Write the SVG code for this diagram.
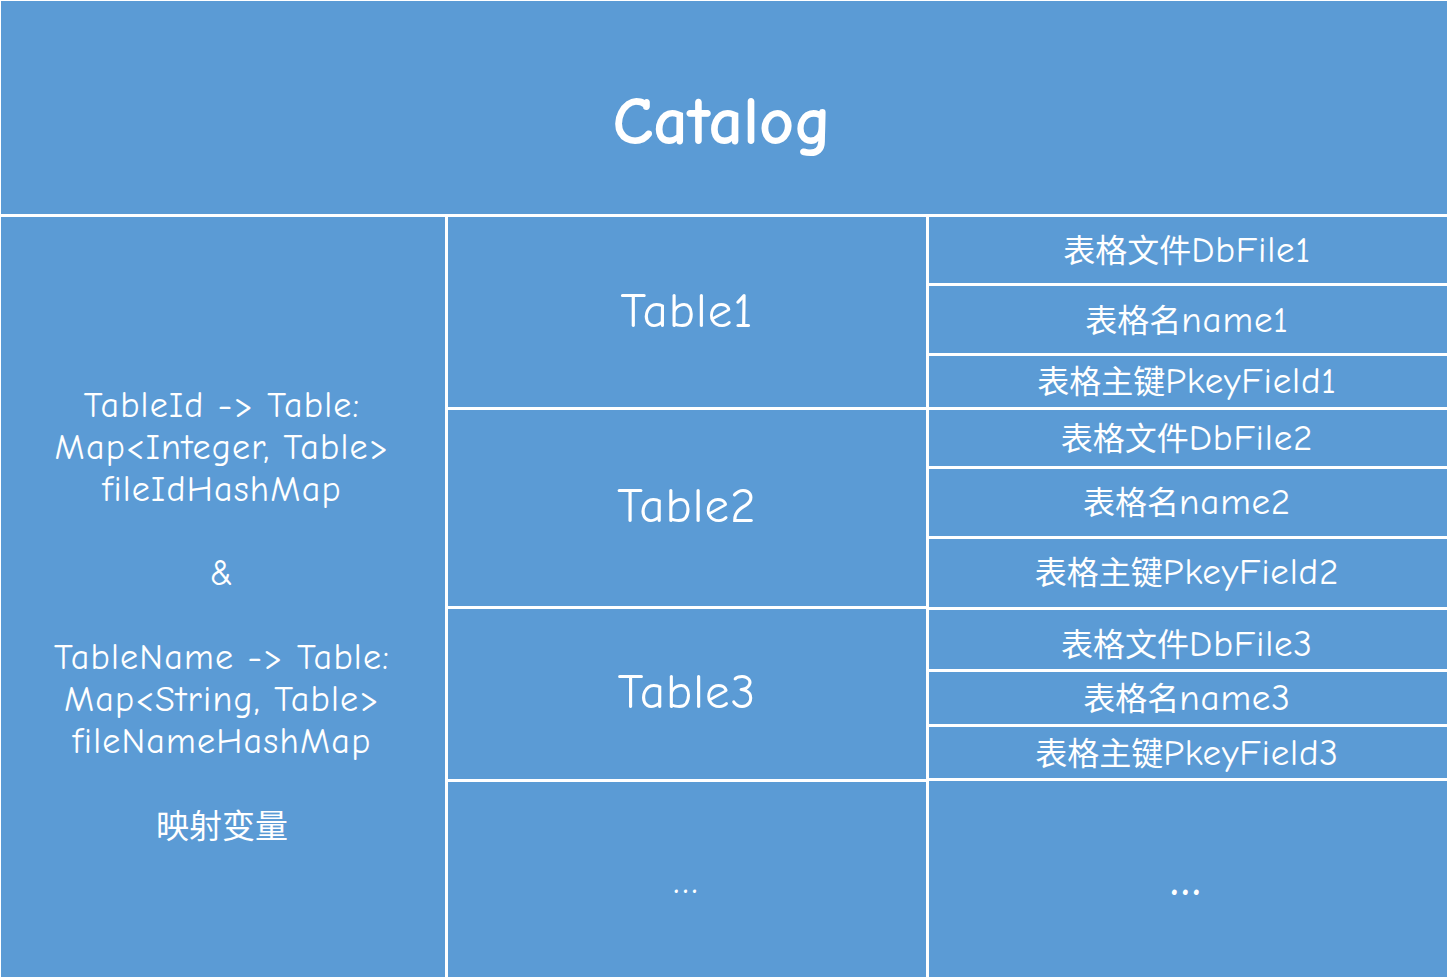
<svg xmlns="http://www.w3.org/2000/svg" width="1449" height="979" viewBox="0 0 1449 979">
  <style>
    .cell { fill: #5B9BD5; }
    text { fill: #ffffff; text-anchor: middle; font-family: "Comic Neue", "Noto Sans", "Noto Sans CJK SC", sans-serif; }
    .title { font-size: 68px; font-weight: bold; }
    .tbl { font-size: 49px; letter-spacing: 1px; }
    .fld { font-size: 32px; }
    .fld .lat { font-size: 37px; letter-spacing: 0.8px; }
    .map { font-size: 36px; letter-spacing: 1.2px; }
    .dots { font-size: 40px; letter-spacing: 3px; }
  </style>
  <rect x="0" y="0" width="1449" height="979" fill="#ffffff"/>

  <g id="catalog">
    <rect class="cell" x="1" y="1" width="1446" height="213"/>
    <text class="title" x="722" y="144">Catalog</text>
  </g>

  <g id="maps">
    <rect class="cell" x="1" y="217" width="444" height="760"/>
    <text class="map" x="222" y="417">TableId -&gt; Table:</text>
    <text class="map" x="222" y="459">Map&lt;Integer, Table&gt;</text>
    <text class="map" x="222" y="501">fileIdHashMap</text>
    <text class="map" x="222" y="585">&amp;</text>
    <text class="map" x="222" y="669">TableName -&gt; Table:</text>
    <text class="map" x="222" y="711">Map&lt;String, Table&gt;</text>
    <text class="map" x="222" y="753">fileNameHashMap</text>
    <text class="map" x="222" y="838" style="font-size:33px;letter-spacing:0">映射变量</text>
  </g>

  <g id="table1">
    <rect class="cell" x="448" y="217" width="478" height="190"/>
    <text class="tbl" x="687" y="327">Table1</text>
    <rect class="cell" x="929" y="217" width="518" height="66"/>
    <text class="fld" x="1187" y="262">表格文件<tspan class="lat">DbFile1</tspan></text>
    <rect class="cell" x="929" y="286" width="518" height="67"/>
    <text class="fld" x="1187" y="332">表格名<tspan class="lat">name1</tspan></text>
    <rect class="cell" x="929" y="356" width="518" height="51"/>
    <text class="fld" x="1187" y="393">表格主键<tspan class="lat">PkeyField1</tspan></text>
  </g>

  <g id="table2">
    <rect class="cell" x="448" y="410" width="478" height="196"/>
    <text class="tbl" x="687" y="522">Table2</text>
    <rect class="cell" x="929" y="410" width="518" height="56"/>
    <text class="fld" x="1187" y="450">表格文件<tspan class="lat">DbFile2</tspan></text>
    <rect class="cell" x="929" y="469" width="518" height="67"/>
    <text class="fld" x="1187" y="514">表格名<tspan class="lat">name2</tspan></text>
    <rect class="cell" x="929" y="539" width="518" height="68"/>
    <text class="fld" x="1187" y="584">表格主键<tspan class="lat">PkeyField2</tspan></text>
  </g>

  <g id="table3">
    <rect class="cell" x="448" y="609" width="478" height="170"/>
    <text class="tbl" x="687" y="708">Table3</text>
    <rect class="cell" x="929" y="610" width="518" height="59"/>
    <text class="fld" x="1187" y="656">表格文件<tspan class="lat">DbFile3</tspan></text>
    <rect class="cell" x="929" y="672" width="518" height="52"/>
    <text class="fld" x="1187" y="710">表格名<tspan class="lat">name3</tspan></text>
    <rect class="cell" x="929" y="727" width="518" height="51"/>
    <text class="fld" x="1187" y="765">表格主键<tspan class="lat">PkeyField3</tspan></text>
  </g>

  <g id="more">
    <rect class="cell" x="448" y="782" width="478" height="195"/>
    <text class="dots" x="687" y="893">...</text>
    <rect class="cell" x="929" y="781" width="518" height="196"/>
    <text class="dots" x="1187" y="895" style="font-weight:bold;font-size:44px">...</text>
  </g>
</svg>
